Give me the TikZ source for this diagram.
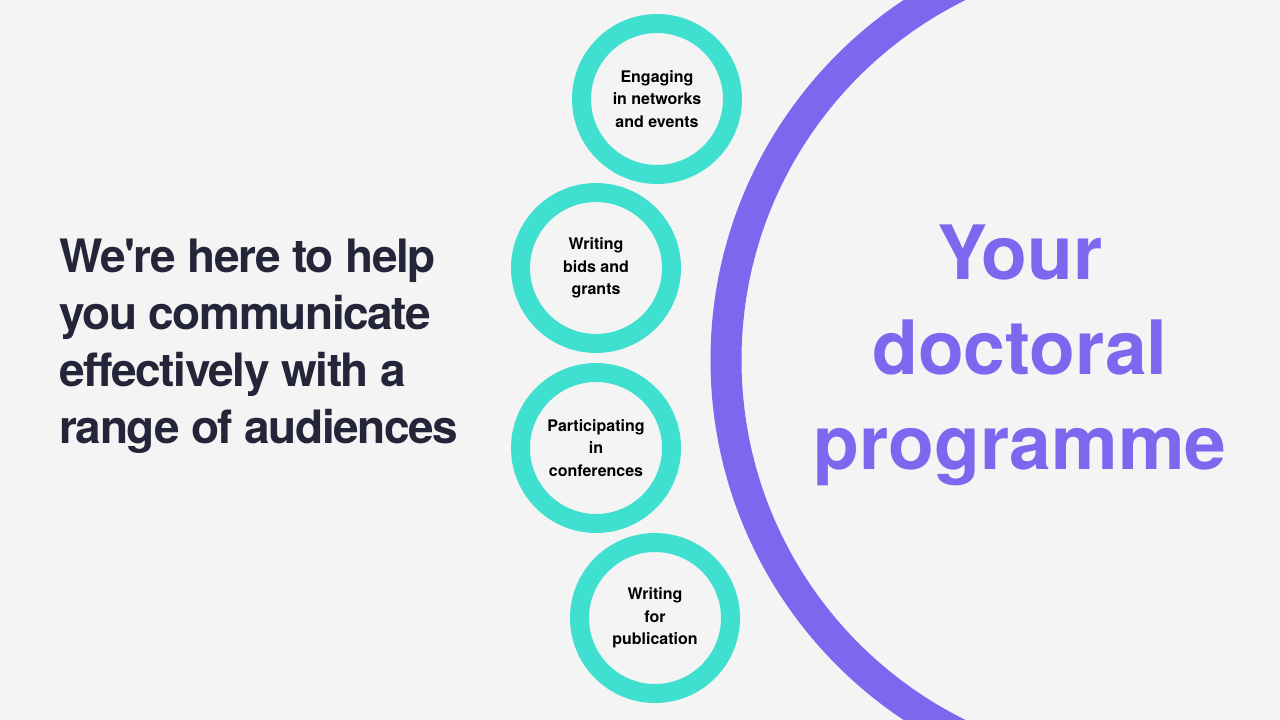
\documentclass[tikz,border=0pt]{standalone}
\usepackage{fontspec}
\setmainfont{TeX Gyre Heros}
\newfontfamily\headfont[LetterSpace=-3]{TeX Gyre Heros}
\usepackage{tikz}

\definecolor{pagegrey}{HTML}{F4F4F4}
\definecolor{ringteal}{HTML}{40E0D0}
\definecolor{bigpurple}{HTML}{7B68EE}
\definecolor{inkdark}{HTML}{25253A}

\begin{document}
\begin{tikzpicture}
		[x=1pt,y=-1pt,line cap=round,
		%Styles
		ring/.style={circle,draw=ringteal,line width=19pt,minimum size=151pt,inner sep=0pt,
			align=center,text=black,font=\bfseries\fontsize{16}{22.5}\selectfont},
		bigarc/.style={draw=bigpurple,line width=31pt},
		lead text/.style={inner sep=0pt,align=left,text=inkdark,
			font=\headfont\bfseries\fontsize{46}{57}\selectfont},
		title text/.style={inner sep=0pt,align=center,text=bigpurple,
			font=\bfseries\fontsize{75}{95}\selectfont}
		]
		
		%Page
		\fill[pagegrey] (0,0) rectangle (1280,720);
		\useasboundingbox (0,0) rectangle (1280,720);
		
		%The big arc
		\begin{scope}
			\clip (0,0) rectangle (1280,720);
			\coordinate (arccentre) at (1142.5,360);
			\draw[bigarc] (arccentre) circle (416.5pt);
		\end{scope}
		
		%The rings
		\node[ring] (engaging) at (657,99) {Engaging\\in networks\\and events};
		\node[ring] (bids) at (596,268) {Writing\\bids and\\grants};
		\node[ring] (conferences) at (596,448) {Participating\\in\\conferences};
		\node[ring] (publication) at (655,618) {Writing\\for\\publication};
		
		%The texts
		\node[lead text,anchor=west] (helptext) at (59,346)
			{We're here to help\\you communicate\\effectively with a\\range of audiences};
		\node[title text] (programme) at (1020,355) {Your\\doctoral\\programme};
	\end{tikzpicture}
\end{document}
